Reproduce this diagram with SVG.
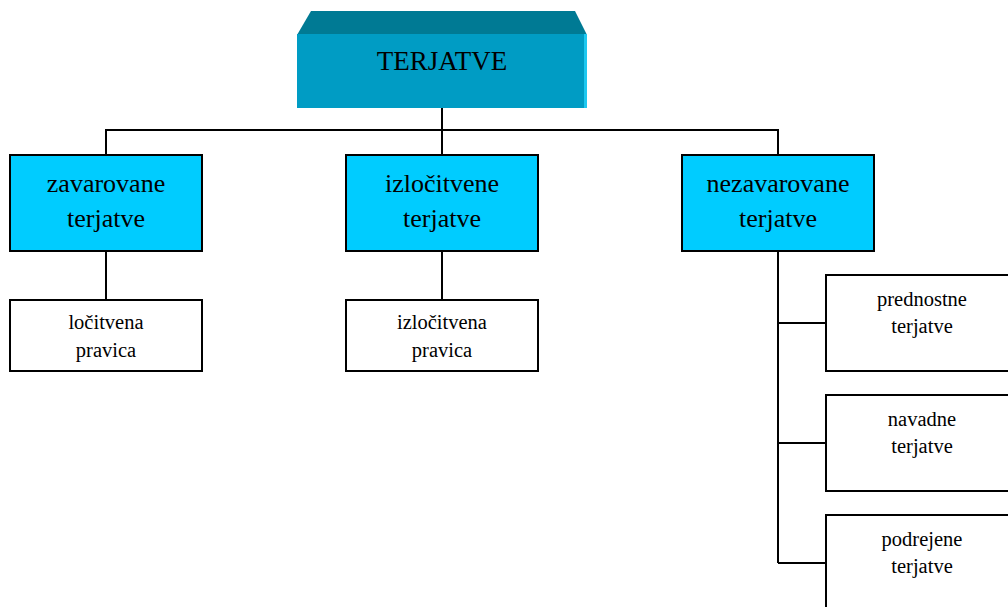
<svg xmlns="http://www.w3.org/2000/svg" width="1008" height="607" viewBox="0 0 1008 607">
<style>
text{font-family:"Liberation Serif","Times New Roman",serif;fill:#000;text-anchor:middle}
.t1{font-size:27px}
.t2{font-size:26px}
.t3{font-size:20.5px}
.l2{fill:#00ccff;stroke:#000;stroke-width:2}
.l3{fill:#fff;stroke:#000;stroke-width:2}
.c{fill:none;stroke:#000;stroke-width:2}
</style>
<rect width="1008" height="607" fill="#fff"/>
<g id="connectors">
<path class="c" d="M442 108V130M106 155V130H778V155M442 130V155"/>
<path class="c" d="M106 251V300M442 251V300"/>
<path class="c" d="M778 251V563M778 323H826M778 443H826M778 563H826"/>
</g>
<g id="terjatve">
<polygon points="311,11 575,11 587,35 297,35" fill="#007a94"/>
<rect x="297" y="34" width="290" height="74" fill="#009cc4"/>
<rect x="584" y="34" width="3" height="74" fill="#1ec8f0"/>
<text class="t1" x="442" y="70">TERJATVE</text>
</g>
<g id="zavarovane">
<rect class="l2" x="10" y="155" width="192" height="96"/>
<text class="t2" x="106" y="192">zavarovane</text>
<text class="t2" x="106" y="227">terjatve</text>
</g>
<g id="izlocitvene">
<rect class="l2" x="346" y="155" width="192" height="96"/>
<text class="t2" x="442" y="192">izločitvene</text>
<text class="t2" x="442" y="227">terjatve</text>
</g>
<g id="nezavarovane">
<rect class="l2" x="682" y="155" width="192" height="96"/>
<text class="t2" x="778" y="192">nezavarovane</text>
<text class="t2" x="778" y="227">terjatve</text>
</g>
<g id="locitvena">
<rect class="l3" x="10" y="300" width="192" height="71"/>
<text class="t3" x="106" y="329">ločitvena</text>
<text class="t3" x="106" y="357">pravica</text>
</g>
<g id="izlocitvena">
<rect class="l3" x="346" y="300" width="192" height="71"/>
<text class="t3" x="442" y="329">izločitvena</text>
<text class="t3" x="442" y="357">pravica</text>
</g>
<g id="prednostne">
<rect class="l3" x="826" y="275" width="192" height="96"/>
<text class="t3" x="922" y="306">prednostne</text>
<text class="t3" x="922" y="333">terjatve</text>
</g>
<g id="navadne">
<rect class="l3" x="826" y="395" width="192" height="96"/>
<text class="t3" x="922" y="426">navadne</text>
<text class="t3" x="922" y="453">terjatve</text>
</g>
<g id="podrejene">
<rect class="l3" x="826" y="515" width="192" height="110"/>
<text class="t3" x="922" y="546">podrejene</text>
<text class="t3" x="922" y="573">terjatve</text>
</g>
</svg>
